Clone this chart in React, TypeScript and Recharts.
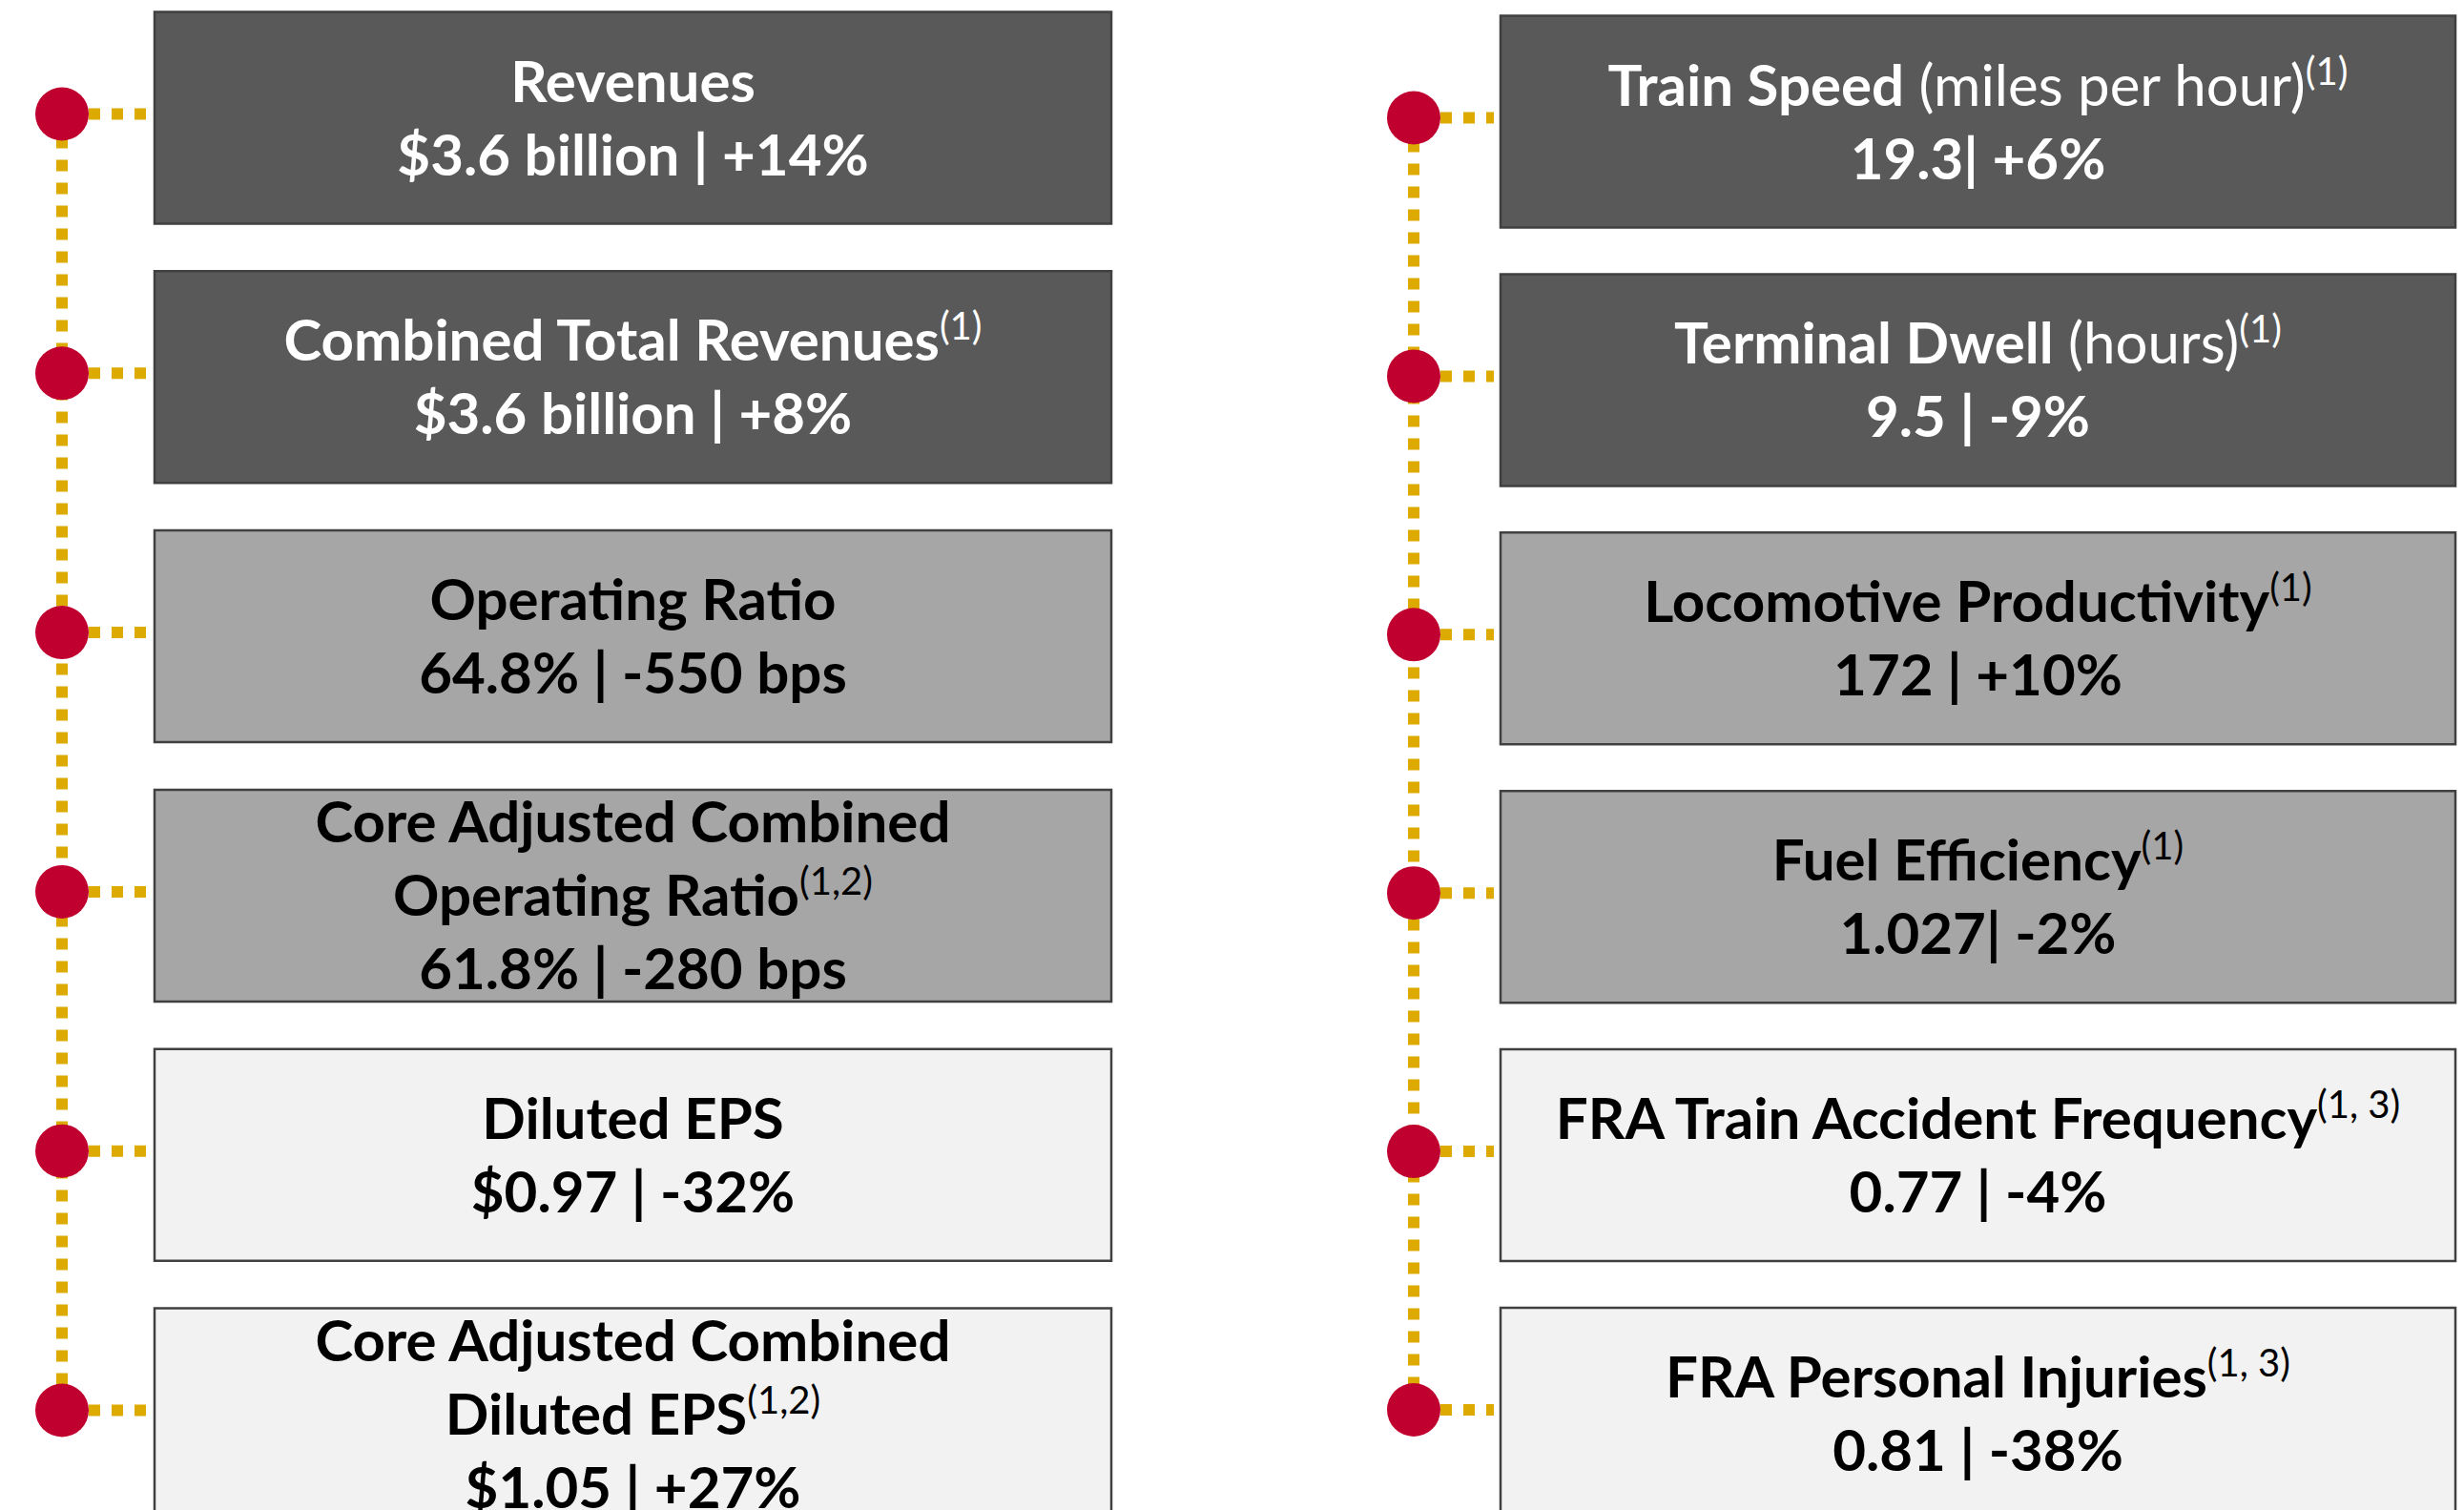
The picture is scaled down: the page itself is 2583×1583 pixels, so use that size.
import React from 'react';
import { ScatterChart, Scatter, XAxis, YAxis, ReferenceArea, ReferenceLine } from 'recharts';

// left column: financial results
const LEFT_METRICS = [
  'Revenues',
  'Combined Total Revenues',
  'Operating Ratio',
  'Core Adjusted Combined\nOperating Ratio',
  'Diluted EPS',
  'Core Adjusted Combined\nDiluted EPS',
];
const LEFT_UNITS = ['', '', '', '', '', ''];
const LEFT_NOTES = ['', '1', '', '1,2', '', '1,2'];
const LEFT_VALUES = [
  '$3.6 billion | +14%',
  '$3.6 billion | +8%',
  '64.8% | -550 bps',
  '61.8% | -280 bps',
  '$0.97 | -32%',
  '$1.05 | +27%',
];
const LEFT_TIERS = ['dark', 'dark', 'mid', 'mid', 'light', 'light'];

// right column: operating metrics
const RIGHT_METRICS = [
  'Train Speed',
  'Terminal Dwell',
  'Locomotive Productivity',
  'Fuel Efficiency',
  'FRA Train Accident Frequency',
  'FRA Personal Injuries',
];
const RIGHT_UNITS = ['miles per hour', 'hours', '', '', '', ''];
const RIGHT_NOTES = ['1', '1', '1', '1', '1, 3', '1, 3'];
const RIGHT_VALUES = ['19.3| +6%', '9.5 | -9%', '172 | +10%', '1.027| -2%', '0.77 | -4%', '0.81 | -38%'];
const RIGHT_TIERS = ['dark', 'dark', 'mid', 'mid', 'light', 'light'];

const W = 2583;
const H = 1583;
const FONT = "Lato, 'Open Sans', sans-serif";
const FONT_SIZE = 60;
const NOTE_SIZE = 40;
const LINE_GAP = 77;

const TIER_FILL: Record<string, string> = { dark: '#595959', mid: '#a6a6a6', light: '#f2f2f2' };
const TIER_TEXT: Record<string, string> = { dark: '#ffffff', mid: '#000000', light: '#000000' };
const BORDER = '#404040';
const GOLD = '#dcaa00';
const RED = '#c0002f';

// layout of the two columns (pixels, chart space = page space)
const COLUMNS = [
  { key: 'left', dotX: 65, boxX1: 162, boxX2: 1165, top0: 12.5, pitch: 271.8,
    metrics: LEFT_METRICS, units: LEFT_UNITS, notes: LEFT_NOTES, values: LEFT_VALUES, tiers: LEFT_TIERS },
  { key: 'right', dotX: 1482, boxX1: 1573, boxX2: 2574, top0: 16.5, pitch: 270.9,
    metrics: RIGHT_METRICS, units: RIGHT_UNITS, notes: RIGHT_NOTES, values: RIGHT_VALUES, tiers: RIGHT_TIERS },
];
const BOX_H = 222;

const BoxText = (props: any) => {
  const { viewBox, fallback, metric, unit, note, value, color } = props;
  const vb = viewBox && viewBox.width ? viewBox : fallback;
  const cx = vb.x + vb.width / 2;
  const cy = vb.y + vb.height / 2;
  const titleLines = metric.split('\n');
  const n = titleLines.length + 1;
  const baseline = (k: number) => cy + (k - (n - 1) / 2) * LINE_GAP + 21.5;
  return (
    <g>
      {titleLines.map((line: string, k: number) => {
        const last = k === titleLines.length - 1;
        return (
          <text key={k} x={cx} y={baseline(k)} textAnchor="middle" fill={color}
            fontFamily={FONT} fontSize={FONT_SIZE} fontWeight={700}>
            <tspan>{line}</tspan>
            {last && unit ? <tspan fontWeight={400}>{` (${unit})`}</tspan> : null}
            {last && note ? <tspan fontSize={NOTE_SIZE} fontWeight={400} dy={-22}>{`(${note})`}</tspan> : null}
          </text>
        );
      })}
      <text x={cx} y={baseline(n - 1)} textAnchor="middle" fill={color}
        fontFamily={FONT} fontSize={FONT_SIZE} fontWeight={700}>
        {value}
      </text>
    </g>
  );
};

const App = () => {
  const dots = COLUMNS.map((col) =>
    col.metrics.map((m, i) => ({ x: col.dotX, y: col.top0 + i * col.pitch + BOX_H / 2 - 4, name: m }))
  );

  return (
    <div style={{ position: 'absolute', left: 0, top: 0, width: W, height: H, overflow: 'hidden', background: '#fff' }}>
      <ScatterChart width={W} height={H} margin={{ top: 0, right: 0, bottom: 0, left: 0 }}>
        <XAxis type="number" dataKey="x" domain={[0, W]} allowDataOverflow hide />
        <YAxis type="number" dataKey="y" domain={[0, H]} allowDataOverflow reversed hide />

        {COLUMNS.map((col, c) => {
          const pts = dots[c];
          return (
            <ReferenceLine
              key={`spine-${col.key}`}
              segment={[{ x: col.dotX, y: pts[0].y }, { x: col.dotX, y: pts[pts.length - 1].y }]}
              stroke={GOLD}
              strokeWidth={12}
              strokeDasharray="12 12"
              ifOverflow="visible"
            />
          );
        })}
        {COLUMNS.map((col, c) =>
          dots[c].map((p, i) => (
            <ReferenceLine
              key={`tick-${col.key}-${i}`}
              segment={[{ x: col.dotX + 4, y: p.y }, { x: col.boxX1 - 7, y: p.y }]}
              stroke={GOLD}
              strokeWidth={12}
              strokeDasharray="12 12"
              ifOverflow="visible"
            />
          ))
        )}

        {COLUMNS.map((col) =>
          col.metrics.map((m, i) => {
            const y1 = col.top0 + i * col.pitch;
            const tier = col.tiers[i];
            return (
              <ReferenceArea
                key={`box-${col.key}-${i}`}
                x1={col.boxX1}
                x2={col.boxX2}
                y1={y1}
                y2={y1 + BOX_H}
                fill={TIER_FILL[tier]}
                fillOpacity={1}
                stroke={BORDER}
                strokeWidth={2.5}
                ifOverflow="visible"
                label={(lp: any) => (
                  <BoxText
                    {...lp}
                    fallback={{ x: col.boxX1, y: y1, width: col.boxX2 - col.boxX1, height: BOX_H }}
                    metric={m}
                    unit={col.units[i]}
                    note={col.notes[i]}
                    value={col.values[i]}
                    color={TIER_TEXT[tier]}
                  />
                )}
              />
            );
          })
        )}

        {COLUMNS.map((col, c) => (
          <Scatter
            key={`dots-${col.key}`}
            data={dots[c]}
            isAnimationActive={false}
            shape={(p: any) => <circle cx={p.cx} cy={p.cy} r={28} fill={RED} />}
          />
        ))}
      </ScatterChart>
    </div>
  );
};

export default App;
